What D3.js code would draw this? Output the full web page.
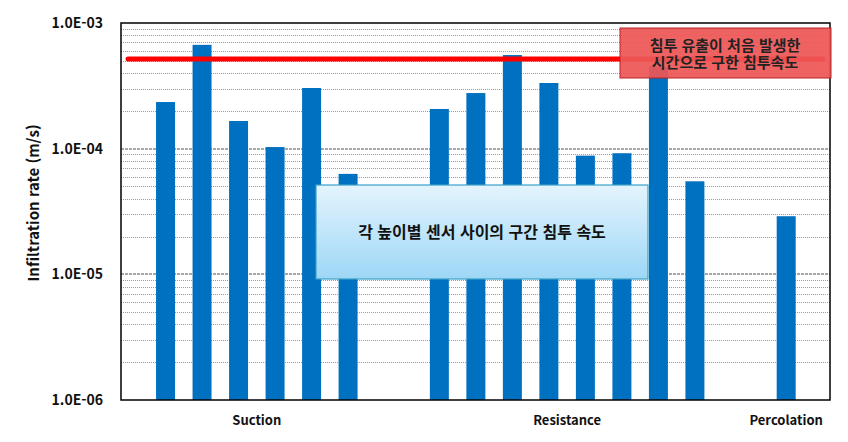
<!DOCTYPE html>
<html lang="ko">
<head>
<meta charset="utf-8">
<title>Infiltration rate</title>
<script src="https://cdn.jsdelivr.net/npm/d3@7"></script>
<style>
  body { margin: 0; background: #fff; }
  text { font-family: "Noto Sans CJK KR", "Noto Sans", sans-serif; font-weight: bold; fill: #111; }
  .minor { stroke: #9a9a9a; stroke-width: 1; stroke-dasharray: 1,1; }
  .major { stroke: #8a8a8a; stroke-width: 1.6; stroke-dasharray: 3,1; }
</style>
</head>
<body>
<script>
// data
var categories = ["Suction", "Resistance", "Percolation"];
var suctionRates = [2.35e-4, 6.7e-4, 1.66e-4, 1.03e-4, 3.04e-4, 6.3e-5];
var resistanceRates = [2.07e-4, 2.77e-4, 5.56e-4, 3.33e-4, 8.8e-5, 9.2e-5, 4.5e-4, 5.5e-5];
var percolationRates = [2.9e-5];
var firstLeakRate = 5.17e-4;
var yTicks = [1e-3, 1e-4, 1e-5, 1e-6];
var yTickLabels = ["1.0E-03", "1.0E-04", "1.0E-05", "1.0E-06"];
var yTitle = "Infiltration rate (m/s)";
var leakNote = ["침투 유출이 처음 발생한", "시간으로 구한 침투속도"];
var sectionNote = "각 높이별 센서 사이의 구간 침투 속도";

var width = 848, height = 442;
var plotL = 121, plotR = 830, plotT = 23, plotB = 400;
var groupGap = 1.5; // empty slots between groups

var groups = [suctionRates, resistanceRates, percolationRates];
var bars = [], centers = [], count = 0;
groups.forEach(function(vals, gi) {
    var start = count + gi * groupGap;
    vals.forEach(function(v, i) {
        bars.push({ slot: start + i, value: v });
    });
    centers.push(start + (vals.length - 1) / 2);
    count += vals.length;
});

var x = d3.scaleLinear().domain([-1.22, 18.2]).range([plotL, plotR]);
var y = d3.scaleLog().domain([1e-6, 1e-3]).range([plotB, plotT]);

var svg = d3.select("body").append("svg")
    .attr("width", width)
    .attr("height", height);

// grid lines
var minor = [];
for (var e = -6; e < -3; e++) {
    for (var m = 2; m <= 9; m++) minor.push(m * Math.pow(10, e));
}
svg.selectAll("line.minor").data(minor).enter().append("line")
    .attr("class", "minor")
    .attr("x1", plotL).attr("x2", plotR)
    .attr("y1", function(d) { return Math.round(y(d)) + 0.5; })
    .attr("y2", function(d) { return Math.round(y(d)) + 0.5; });
svg.selectAll("line.major").data([1e-4, 1e-5]).enter().append("line")
    .attr("class", "major")
    .attr("x1", plotL).attr("x2", plotR)
    .attr("y1", function(d) { return Math.round(y(d)); })
    .attr("y2", function(d) { return Math.round(y(d)); });

// bars
var bw = x(0.52) - x(0);
svg.selectAll("rect.bar").data(bars).enter().append("rect")
    .attr("class", "bar")
    .attr("x", function(d) { return x(d.slot) - bw / 2; })
    .attr("width", bw)
    .attr("y", function(d) { return y(d.value); })
    .attr("height", function(d) { return plotB - y(d.value); })
    .attr("fill", "#0070c0");

// plot frame
svg.append("rect")
    .attr("x", plotL).attr("y", plotT)
    .attr("width", plotR - plotL).attr("height", plotB - plotT)
    .attr("fill", "none").attr("stroke", "#000").attr("stroke-width", 1.5);

// y ticks
svg.selectAll("text.ytick").data(yTicks).enter().append("text")
    .attr("class", "ytick")
    .attr("x", 103)
    .attr("y", function(d) { return y(d); })
    .attr("dy", "0.35em")
    .attr("text-anchor", "end")
    .style("font-size", "14px")
    .text(function(d, i) { return yTickLabels[i]; });

svg.append("text")
    .attr("transform", "translate(39,203) rotate(-90)")
    .attr("text-anchor", "middle")
    .style("font-size", "15px")
    .text(yTitle);

// category labels
svg.selectAll("text.cat").data(categories).enter().append("text")
    .attr("class", "cat")
    .attr("x", function(d, i) { return x(centers[i]); })
    .attr("y", 425)
    .attr("text-anchor", "middle")
    .style("font-size", "13px")
    .text(function(d) { return d; });

// first leak line
svg.append("line")
    .attr("x1", plotL + 7).attr("x2", plotR - 7)
    .attr("y1", y(firstLeakRate)).attr("y2", y(firstLeakRate))
    .attr("stroke", "#ff0000").attr("stroke-width", 5)
    .attr("stroke-linecap", "round");

// red note (one text, two lines)
svg.append("rect")
    .attr("x", 620).attr("y", 28).attr("width", 211).attr("height", 50)
    .attr("fill", "#ee5656").attr("fill-opacity", 0.93)
    .attr("stroke", "#b82226").attr("stroke-width", 1);
svg.append("text")
    .attr("text-anchor", "middle")
    .style("font-size", "15px")
    .style("fill", "#222")
    .selectAll("tspan").data(leakNote).enter().append("tspan")
    .attr("x", 725)
    .attr("y", function(d, i) { return 51 + i * 17; })
    .text(function(d) { return d; });

// blue note
var grad = svg.append("defs").append("linearGradient")
    .attr("id", "blueFill").attr("x1", 0).attr("y1", 0).attr("x2", 0).attr("y2", 1);
grad.append("stop").attr("offset", "0%").attr("stop-color", "#e4f4fd");
grad.append("stop").attr("offset", "100%").attr("stop-color", "#9dd7f6");
svg.append("rect")
    .attr("x", 316).attr("y", 185).attr("width", 332).attr("height", 94)
    .attr("fill", "url(#blueFill)")
    .attr("stroke", "#3aa0c8").attr("stroke-width", 1.2);
svg.append("text")
    .attr("x", 482).attr("y", 238)
    .attr("text-anchor", "middle")
    .style("font-size", "16px")
    .text(sectionNote);
</script>
</body>
</html>
